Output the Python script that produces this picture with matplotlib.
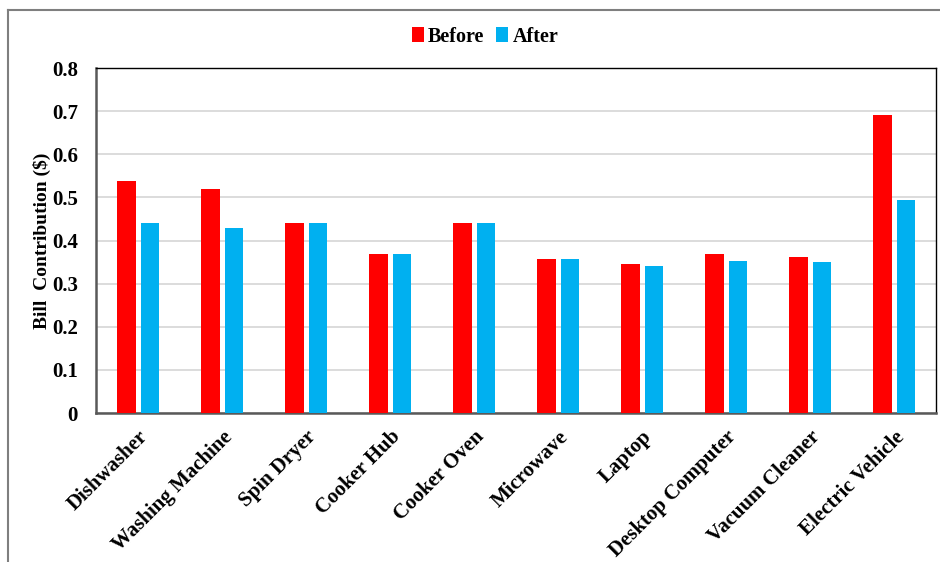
import numpy as np
import matplotlib.pyplot as plt
from matplotlib.lines import Line2D

appliances = ["Dishwasher", "Washing Machine", "Spin Dryer", "Cooker Hub",
              "Cooker Oven", "Microwave", "Laptop", "Desktop Computer",
              "Vacuum Cleaner", "Electric Vehicle"]
before = [0.539, 0.520, 0.440, 0.368, 0.440, 0.356, 0.346, 0.368, 0.362, 0.690]
after = [0.440, 0.430, 0.440, 0.368, 0.440, 0.356, 0.342, 0.352, 0.350, 0.495]

plt.rcParams['font.family'] = ['Liberation Serif', 'DejaVu Serif']
plt.rcParams['font.weight'] = 'bold'

fig = plt.figure(figsize=(9.4, 5.62), dpi=100)
ax = fig.add_axes([0.1021, 0.2651, 0.8936, 0.6139])

x = np.arange(len(appliances))
ax.bar(x - 0.14, before, 0.225, color='#FF0000', label='Before', zorder=3)
ax.bar(x + 0.14, after, 0.215, color='#00B0F0', label='After', zorder=3)

ax.set_xlim(-0.5, len(appliances) - 0.5)
ax.set_ylim(0, 0.8)
ax.set_yticks(np.arange(0, 0.81, 0.1))
ax.set_yticklabels(["0"] + ["%.1f" % v for v in np.arange(0.1, 0.81, 0.1)],
                   fontsize=15, fontweight='bold')
ax.yaxis.grid(True, color='#d9d9d9', linewidth=1.3, zorder=0)
ax.set_xticks(x)
ax.set_xticklabels(appliances, rotation=45, ha='right', rotation_mode='anchor',
                   fontsize=15, fontweight='bold')
ax.tick_params(axis='x', length=0, pad=10)
ax.tick_params(axis='y', length=0, pad=13)
ax.set_ylabel("Bill  Contribution ($)", fontsize=14, fontweight='bold', labelpad=1)

for s in ['left', 'bottom']:
    ax.spines[s].set_color('#595959')
    ax.spines[s].set_linewidth(1.8)
for s in ['top', 'right']:
    ax.spines[s].set_color('black')
    ax.spines[s].set_linewidth(1.0)

fig.legend(loc='upper center', bbox_to_anchor=(0.516, 0.985), ncol=2, frameon=False,
           prop={'size': 14.5, 'weight': 'bold'}, handlelength=0.6, handleheight=0.7,
           handletextpad=0.2, columnspacing=0.6)

# chart area border (only the left and top edges fall inside the image)
fig.add_artist(Line2D([8 / 940, 8 / 940], [0, 1 - 10 / 562], color='#7f7f7f', linewidth=1.5))
fig.add_artist(Line2D([8 / 940, 1], [1 - 10 / 562, 1 - 10 / 562], color='#7f7f7f', linewidth=1.5))

fig.savefig("out.png", dpi=100)
